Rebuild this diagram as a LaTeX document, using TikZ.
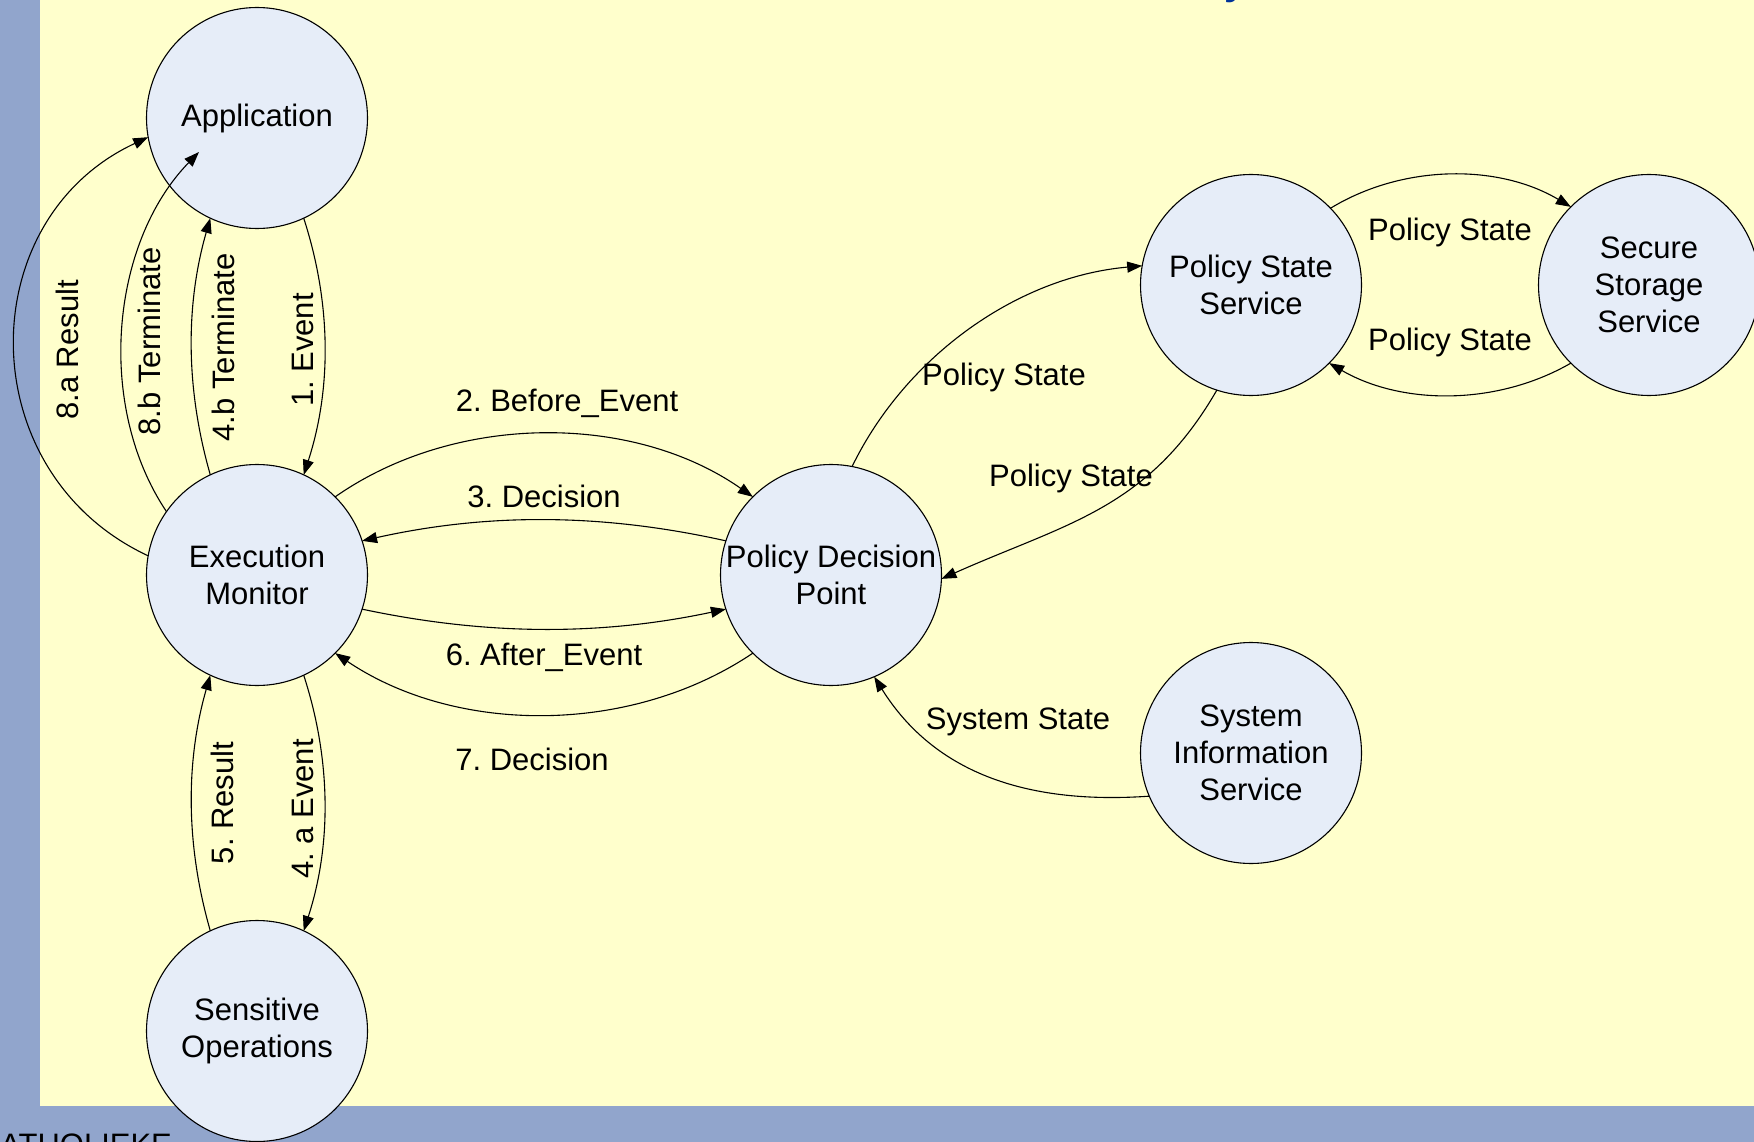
\documentclass[tikz,border=0pt]{standalone}
\usepackage{fontspec}
\setmainfont{Liberation Sans}
\usetikzlibrary{arrows.meta}
\definecolor{slidebg}{RGB}{255,255,204}
\definecolor{frameblue}{RGB}{145,165,204}
\definecolor{bubble}{RGB}{230,237,248}
\definecolor{titleblue}{RGB}{0,51,153}
\frenchspacing
\begin{document}
\begin{tikzpicture}[x=1pt,y=1pt,
  proc/.style={circle,draw,line width=1.1pt,fill=bubble,minimum size=221pt,
    inner sep=0pt,outer sep=0pt,align=center,font=\fontsize{31}{37}\selectfont},
  lbl/.style={font=\fontsize{31}{37}\selectfont,inner sep=0pt},
  flow/.style={line width=1.1pt,-{Triangle[length=15pt,width=11pt]},looseness=0.9}
]
\useasboundingbox (0,0) rectangle (1754,-1142);
\clip (0,0) rectangle (1754,-1142);

% slide frame and background
\fill[frameblue] (0,0) rectangle (1754,-1142);
\fill[slidebg] (40,0) rectangle (1754,-1106);

% title descender and footer text
\node[anchor=base west,inner sep=0pt,text=titleblue,
      font=\bfseries\fontsize{40}{48}\selectfont] (title) at (1224,5) {y};
\node[anchor=base west,inner sep=0pt,font=\fontsize{31}{37}\selectfont]
      (footer) at (0,-1155) {ATHOLIEKE};

% components
\node[proc] (app) at (257,-118)  {Application};
\node[proc] (em)  at (257,-575)  {Execution\\Monitor};
\node[proc] (so)  at (257,-1031) {Sensitive\\Operations};
\node[proc] (pdp) at (831,-575)  {Policy Decision\\Point};
\node[proc] (pss) at (1251,-285) {Policy State\\Service};
\node[proc] (sss) at (1649,-285) {Secure\\Storage\\Service};
\node[proc] (sis) at (1251,-753) {System\\Information\\Service};

\coordinate (tb) at (199,-152);

% application <-> execution monitor
\draw[flow] (app.-65) to[bend left=18] (em.65);
\draw[flow] (em.115) to[bend left=16] (app.-115);
\draw[flow] (em.145) to[bend left=39] (tb);
\draw[flow] (em.170) to[out=155,in=-155,looseness=1.2] (app.-170);

% execution monitor <-> policy decision point
\draw[flow] (em.45) to[bend left=35] (pdp.135);
\draw[flow] (pdp.162) to[bend right=12.6] (em.18);
\draw[flow] (em.-18) to[bend right=12] (pdp.-162);
\draw[flow] (pdp.-135) to[bend left=34] (em.-45);

% execution monitor <-> sensitive operations
\draw[flow] (em.-65) to[bend left=18] (so.65);
\draw[flow] (so.115) to[bend left=16] (em.-115);

% policy state handling
\draw[flow] (pdp.79) to[out=64,in=-175] (pss.170);
\draw[flow] (pss.-108) to[out=-120,in=24,looseness=1.05] (pdp.-2);
\draw[flow] (pss.44) to[bend left=31] (sss.135);
\draw[flow] (sss.-135) to[bend left=30] (pss.-45);

% system information
\draw[flow] (sis.-157) to[out=184,in=-58,looseness=1] (pdp.-67.5);

% connector labels
\node[lbl,rotate=90] (l1)  at (303,-350)   {1. Event};
\node[lbl,rotate=90] (l4b) at (223.5,-347.5) {4.b Terminate};
\node[lbl,rotate=90] (l8b) at (149.5,-341.5) {8.b Terminate};
\node[lbl,rotate=90] (l8a) at (67.5,-350)  {8.a Result};
\node[lbl,rotate=90] (l4a) at (303,-809)   {4. a Event};
\node[lbl,rotate=90] (l5)  at (222.5,-803) {5. Result};
\node[lbl] (l2) at (567,-403) {2. Before\_Event};
\node[lbl] (l3) at (544,-496) {3. Decision};
\node[lbl] (l6) at (544,-657) {6. After\_Event};
\node[lbl] (l7) at (532,-759) {7. Decision};
\node[lbl] (ps1) at (1004,-377) {Policy State};
\node[lbl] (ps2) at (1071,-478) {Policy State};
\node[lbl] (ps3) at (1450,-232) {Policy State};
\node[lbl] (ps4) at (1450,-342.5) {Policy State};
\node[lbl] (ss)  at (1018,-722) {System State};
\end{tikzpicture}
\end{document}
